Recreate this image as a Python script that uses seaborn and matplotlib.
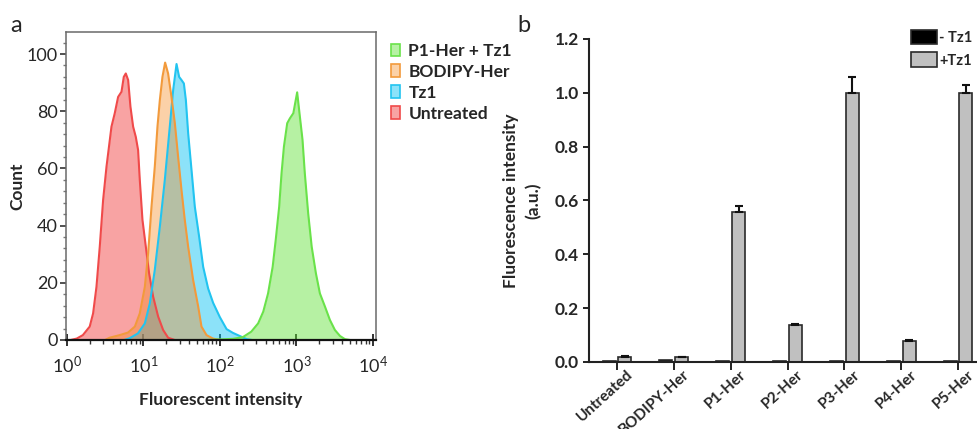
import numpy as np
import pandas as pd
import matplotlib
matplotlib.use("Agg")
import matplotlib.pyplot as plt
import matplotlib.transforms as mtransforms
from matplotlib.patches import Patch
from matplotlib.ticker import LogLocator, NullFormatter, MultipleLocator, FormatStrFormatter
import seaborn as sns

# ---------------- panel a: flow cytometry histograms ----------------
# log10(fluorescent intensity) and counts along each histogram outline
untreated_log = [0.05, 0.13, 0.21, 0.30, 0.344, 0.388, 0.431, 0.475, 0.519, 0.584, 0.627,
                 0.671, 0.715, 0.745, 0.771, 0.802, 0.832, 0.867, 0.902, 0.932, 0.954,
                 0.989, 1.033, 1.076, 1.128, 1.194, 1.259, 1.324, 1.41]
untreated_cnt = [0.0, 0.5, 1.7, 4.7, 9.3, 18.6, 32.6, 49.0, 60.6, 74.6, 79.3,
                 85.0, 86.8, 92.0, 93.2, 90.9, 81.6, 74.6, 71.0, 66.4, 56.0,
                 42.0, 32.6, 23.3, 15.2, 8.2, 3.5, 0.8, 0.0]

bodipy_log = [0.50, 0.56, 0.69, 0.80, 0.89, 0.954, 1.02, 1.063, 1.107, 1.15, 1.185,
              1.216, 1.25, 1.285, 1.324, 1.368, 1.412, 1.455, 1.499, 1.542, 1.586,
              1.651, 1.717, 1.76, 1.826, 1.91, 2.00]
bodipy_cnt = [0.0, 0.8, 1.7, 2.6, 4.7, 9.3, 18.6, 30.3, 46.6, 60.6, 74.6,
              83.9, 92.0, 97.0, 93.2, 85.0, 75.8, 64.0, 52.4, 42.0, 32.6,
              21.0, 11.7, 4.7, 1.7, 0.5, 0.0]

tz1_log = [0.75, 0.82, 0.93, 1.02, 1.085, 1.15, 1.216, 1.281, 1.346, 1.39, 1.434,
           1.468, 1.499, 1.53, 1.556, 1.586, 1.63, 1.673, 1.73, 1.782, 1.847,
           1.912, 2.00, 2.088, 2.17, 2.26, 2.35, 2.42]
tz1_cnt = [0.0, 0.6, 2.3, 5.8, 12.8, 24.5, 39.6, 56.0, 74.6, 87.4, 96.5,
           92.0, 90.9, 89.7, 83.9, 72.3, 59.4, 46.6, 36.0, 25.6, 18.0,
           13.0, 8.0, 3.8, 2.5, 1.4, 0.3, 0.0]

p1_tz1_log = [1.80, 2.00, 2.17, 2.30, 2.41, 2.50, 2.567, 2.63, 2.69, 2.73, 2.775,
              2.806, 2.837, 2.88, 2.915, 2.96, 3.01, 3.046, 3.08, 3.11, 3.154,
              3.20, 3.255, 3.307, 3.373, 3.438, 3.503, 3.57, 3.634, 3.70]
p1_tz1_cnt = [0.0, 0.2, 0.4, 1.0, 2.9, 5.8, 9.9, 16.3, 25.6, 35.0, 46.6,
              58.3, 67.6, 75.8, 77.5, 79.3, 86.6, 78.0, 70.0, 58.3, 44.3,
              32.6, 23.3, 16.3, 11.7, 7.0, 3.5, 1.4, 0.3, 0.0]

hist_names = ["P1-Her + Tz1", "BODIPY-Her", "Tz1", "Untreated"]

# ---------------- panel b: bar chart ----------------
samples = ["Untreated", "BODIPY-Her", "P1-Her", "P2-Her", "P3-Her", "P4-Her", "P5-Her"]
minus_tz1 = [0.002, 0.009, 0.002, 0.002, 0.002, 0.002, 0.002]
plus_tz1 = [0.019, 0.017, 0.558, 0.137, 1.000, 0.079, 1.000]
plus_tz1_err = [0.002, 0.001, 0.022, 0.003, 0.057, 0.003, 0.030]
minus_tz1_err = [0.0, 0.0, 0.0, 0.0, 0.0, 0.0, 0.0]
conditions = ["- Tz1", "+Tz1"]

sns.set_style("ticks")
plt.rcParams["font.family"] = ["Lato", "DejaVu Sans"]
plt.rcParams["mathtext.fontset"] = "custom"
plt.rcParams["mathtext.rm"] = "Lato"
plt.rcParams["mathtext.it"] = "Lato:italic"
plt.rcParams["mathtext.bf"] = "Lato:bold"

fig = plt.figure(figsize=(9.77, 4.29), dpi=100)

# ---- panel a ----
axa = fig.add_axes([66 / 977, 1 - 340 / 429, 310 / 977, 308 / 429])

series = [
    # name, log-x, counts, line colour, fill colour, fill alpha
    ("Untreated", untreated_log, untreated_cnt, "#f04a4a", "#f03333", 0.45),
    ("Tz1", tz1_log, tz1_cnt, "#22c4f0", "#00bff2", 0.45),
    ("BODIPY-Her", bodipy_log, bodipy_cnt, "#f29a3c", "#f58c26", 0.40),
    ("P1-Her + Tz1", p1_tz1_log, p1_tz1_cnt, "#6ae24a", "#5fe033", 0.45),
]
legend_style = {}
for name, lx, cnt, lc, fc, al in series:
    x = 10 ** np.asarray(lx)
    y = np.asarray(cnt)
    axa.fill_between(x, 0, y, color=fc, alpha=al, linewidth=0)
    sns.lineplot(x=x, y=y, ax=axa, color=lc, linewidth=1.5, sort=False,
                 estimator=None, legend=False)
    legend_style[name] = (lc, fc, al)

axa.set_xscale("log")
axa.set_xlim(10 ** -0.01, 10 ** 4.04)
axa.set_ylim(0, 107.7)
axa.yaxis.set_major_locator(MultipleLocator(20))
axa.yaxis.set_minor_locator(MultipleLocator(4))
axa.xaxis.set_minor_locator(LogLocator(base=10, subs=np.arange(2, 10), numticks=20))
axa.xaxis.set_minor_formatter(NullFormatter())
axa.set_xticks([1, 10, 100, 1000, 10000])
axa.set_xticklabels([r"$10^{0}$", r"$10^{1}$", r"$10^{2}$", r"$10^{3}$", r"$10^{4}$"])
axa.tick_params(axis="x", which="major", direction="inout", length=8, width=1.3,
                pad=7, labelsize=13, color="#222222")
axa.tick_params(axis="x", which="minor", direction="out", length=3, width=1.0,
                color="#333333")
axa.tick_params(axis="y", which="major", direction="out", length=4, width=1.2,
                pad=2, labelsize=13, color="#333333")
axa.tick_params(axis="y", which="minor", direction="out", length=2, width=1.0,
                color="#777777")
for side in ["left", "top", "right"]:
    axa.spines[side].set_color("#6a6a6a")
    axa.spines[side].set_linewidth(1.1)
axa.spines["bottom"].set_color("#111111")
axa.spines["bottom"].set_linewidth(1.6)
axa.set_xlabel("Fluorescent intensity", fontsize=12.5, fontweight="bold", labelpad=11)
axa.set_ylabel("Count", fontsize=12.5, fontweight="bold", labelpad=1)

handles_a = []
for name in hist_names:
    lc, fc, al = legend_style[name]
    handles_a.append(Patch(facecolor=matplotlib.colors.to_rgba(fc, al), edgecolor=lc,
                           linewidth=1.2, label=name))
fig.legend(handles=handles_a, loc="upper left",
           bbox_to_anchor=(391 / 977, 1 - 43 / 429), frameon=False,
           borderpad=0, borderaxespad=0, handlelength=0.5, handleheight=0.75,
           handletextpad=0.5, labelspacing=0.28, prop={"size": 12.5, "weight": "bold"})

fig.text(10 / 977, 1 - 26 / 429, "a", fontsize=17, va="center", ha="left")
fig.text(517 / 977, 1 - 26 / 429, "b", fontsize=17, va="center", ha="left")

# ---- panel b ----
axb = fig.add_axes([588.6 / 977, 1 - 362 / 429, 397.8 / 977, 323 / 429])
df = pd.DataFrame({
    "sample": samples * 2,
    "condition": [conditions[0]] * len(samples) + [conditions[1]] * len(samples),
    "value": minus_tz1 + plus_tz1,
})
err = {conditions[0]: minus_tz1_err, conditions[1]: plus_tz1_err}
sns.barplot(data=df, x="sample", y="value", hue="condition", order=samples,
            hue_order=conditions, palette={conditions[0]: "#000000", conditions[1]: "#c0c0c0"},
            width=0.56, gap=0.18, edgecolor="#2a2a2a", linewidth=1.2, errorbar=None,
            saturation=1, ax=axb)

for cond, container in zip(conditions, axb.containers):
    for bar, e in zip(container, err[cond]):
        if e <= 0:
            continue
        xc = bar.get_x() + bar.get_width() / 2
        axb.errorbar(xc, bar.get_height(), yerr=[[0], [e]], fmt="none", ecolor="#111111",
                     elinewidth=1.5, capsize=3, capthick=1.5, zorder=1)

axb.set_xlim(-0.5, 6.5)
axb.set_ylim(0, 1.2)
axb.yaxis.set_major_locator(MultipleLocator(0.2))
axb.yaxis.set_major_formatter(FormatStrFormatter("%.1f"))
axb.tick_params(axis="y", direction="out", length=4, width=1.4, pad=3, labelsize=12.5,
                color="#222222")
axb.tick_params(axis="x", direction="out", length=6, width=1.4, pad=1, labelsize=11,
                color="#222222")
for lab in axb.get_yticklabels():
    lab.set_fontweight("bold")
axb.set_xticks(range(len(samples)))
axb.set_xticklabels(samples, rotation=42, ha="right", va="top", rotation_mode="anchor",
                    fontweight="bold")
shift = mtransforms.ScaledTranslation(9 / 100, 4 / 100, fig.dpi_scale_trans)
for lab in axb.get_xticklabels():
    lab.set_transform(lab.get_transform() + shift)
sns.despine(ax=axb)
for side in ["left", "bottom"]:
    axb.spines[side].set_linewidth(1.5)
    axb.spines[side].set_color("#222222")
axb.set_xlabel("")
axb.set_ylabel("Fluorescence intensity\n(a.u.)", fontsize=12.5, fontweight="bold",
               labelpad=9, linespacing=1.5)

h, l = axb.get_legend_handles_labels()
axb.legend_.remove()
fig.legend(h, l, loc="upper left", bbox_to_anchor=(911 / 977, 1 - 30 / 429), frameon=False,
           borderpad=0, borderaxespad=0, handlelength=1.8, handleheight=1.15,
           handletextpad=0.15, labelspacing=0.5, prop={"size": 10.5, "weight": "bold"})

fig.savefig("out.png", dpi=100)
